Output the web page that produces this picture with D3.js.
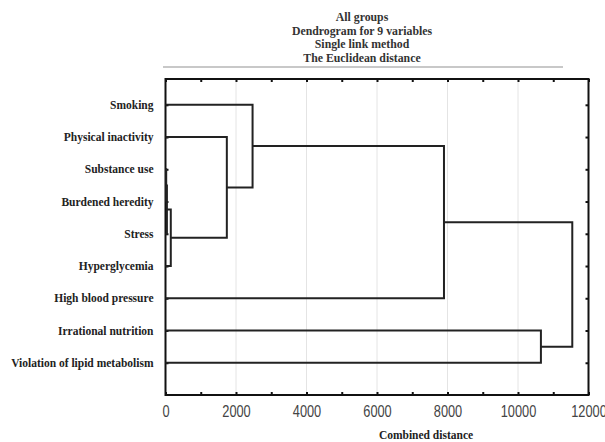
<!DOCTYPE html>
<html>
<head>
<meta charset="utf-8">
<script src="https://cdn.jsdelivr.net/npm/d3@7"></script>
<style>
  body { margin: 0; background: #fff; }
  svg { display: block; }
</style>
</head>
<body>
<div id="svg-container"></div>
<script>
////////////////////////////////////////////////////////////////////
////////////////////////////  Data  ////////////////////////////////
const variables = [
  "Smoking",
  "Physical inactivity",
  "Substance use",
  "Burdened heredity",
  "Stress",
  "Hyperglycemia",
  "High blood pressure",
  "Irrational nutrition",
  "Violation of lipid metabolism",
];
// merge steps: nodes 0-8 are the leaves, merge i creates node 9 + i
const mergeA = [2, 9, 10, 1, 0, 13, 7, 14];
const mergeB = [3, 4, 5, 11, 12, 6, 8, 15];
const mergeDist = [20, 40, 150, 1740, 2470, 7900, 10650, 11540];

const titleLines = [
  "All groups",
  "Dendrogram for 9 variables",
  "Single link method",
  "The Euclidean distance",
];
const xTicks = [0, 2000, 4000, 6000, 8000, 10000, 12000];
const xMinor = d3.range(0, 12001, 1000);
const xLabel = "Combined distance";

////////////////////////////////////////////////////////////////////
////////////////////////////  Init  ////////////////////////////////
const width = 605;
const height = 442;
const margin = { top: 79, right: 16.5, bottom: 47, left: 165.5 };

const svg = d3
  .select("#svg-container")
  .append("svg")
  .attr("width", width)
  .attr("height", height);

const xScale = d3
  .scaleLinear()
  .domain([0, 12000])
  .range([margin.left, width - margin.right]);
const yScale = d3
  .scaleLinear()
  .domain([0.2, 10])
  .range([margin.top, height - margin.bottom]);

const serif = "'Liberation Serif', 'Times New Roman', serif";
const sans = "'Liberation Sans', Arial, sans-serif";

// title
svg
  .append("g")
  .selectAll("text")
  .data(titleLines)
  .join("text")
  .attr("x", 362)
  .attr("y", (d, i) => 21 + i * 13.5)
  .attr("text-anchor", "middle")
  .attr("font-family", serif)
  .attr("font-weight", "bold")
  .attr("font-size", 11.8)
  .attr("fill", "#333")
  .text((d) => d);

// grey rule under title
svg
  .append("line")
  .attr("x1", 163)
  .attr("x2", 563)
  .attr("y1", 67)
  .attr("y2", 67)
  .attr("stroke", "#c8c8c8")
  .attr("stroke-width", 2);

// grid
svg
  .append("g")
  .selectAll("line")
  .data(xTicks.slice(1, -1))
  .join("line")
  .attr("x1", (d) => xScale(d))
  .attr("x2", (d) => xScale(d))
  .attr("y1", yScale.range()[0])
  .attr("y2", yScale.range()[1])
  .attr("stroke", "#e4e4e4")
  .attr("stroke-width", 1);

// axes (ticks pointing inward)
const bottomAxis = d3
  .axisBottom(xScale)
  .tickValues(xMinor)
  .tickSize(-3)
  .tickSizeOuter(0)
  .tickPadding(11)
  .tickFormat((d) => (d % 2000 === 0 ? d : ""));

const gx = svg
  .append("g")
  .attr("transform", `translate(0,${yScale.range()[1]})`)
  .call(bottomAxis);
gx.select(".domain").remove();
gx.selectAll("line").attr("stroke", "#111").attr("stroke-width", 2);
gx.selectAll("text")
  .attr("font-family", sans)
  .attr("font-size", 16)
  .attr("fill", "#444")
  .attr("transform", "scale(0.8,1)");

const gTop = svg
  .append("g")
  .attr("transform", `translate(0,${yScale.range()[0]})`)
  .call(d3.axisTop(xScale).tickValues(xMinor).tickSize(-3).tickFormat(""));
gTop.select(".domain").remove();
gTop.selectAll("line").attr("stroke", "#111").attr("stroke-width", 2);

const rows = d3.range(1, variables.length + 1);
const gy = svg
  .append("g")
  .attr("transform", `translate(${xScale.range()[0]},0)`)
  .call(
    d3
      .axisLeft(yScale)
      .tickValues(rows)
      .tickSize(-3)
      .tickPadding(12)
      .tickFormat((d) => variables[d - 1])
  );
gy.select(".domain").remove();
gy.selectAll("line").attr("stroke", "#111").attr("stroke-width", 2);
gy.selectAll("text")
  .attr("font-family", serif)
  .attr("font-weight", "bold")
  .attr("font-size", 11.5)
  .attr("fill", "#222");

const gRight = svg
  .append("g")
  .attr("transform", `translate(${xScale.range()[1]},0)`)
  .call(d3.axisRight(yScale).tickValues(rows).tickSize(-3).tickFormat(""));
gRight.select(".domain").remove();
gRight.selectAll("line").attr("stroke", "#111").attr("stroke-width", 2);

// frame
svg
  .append("rect")
  .attr("x", xScale.range()[0])
  .attr("y", yScale.range()[0])
  .attr("width", xScale.range()[1] - xScale.range()[0])
  .attr("height", yScale.range()[1] - yScale.range()[0])
  .attr("fill", "none")
  .attr("stroke", "#111")
  .attr("stroke-width", 2);

// axis title
svg
  .append("text")
  .attr("x", 426)
  .attr("y", 439)
  .attr("text-anchor", "middle")
  .attr("font-family", serif)
  .attr("font-weight", "bold")
  .attr("font-size", 11.5)
  .attr("fill", "#222")
  .text(xLabel);

////////////////////////////////////////////////////////////////////
////////////////////////////  Dendrogram  //////////////////////////
const nodeY = rows.slice();
const nodeH = variables.map(() => 0);
const links = [];
mergeA.forEach((a, i) => {
  const b = mergeB[i];
  const d = mergeDist[i];
  links.push({ a, b, d, ya: nodeY[a], yb: nodeY[b], ha: nodeH[a], hb: nodeH[b] });
  nodeY.push((nodeY[a] + nodeY[b]) / 2);
  nodeH.push(d);
});

svg
  .append("g")
  .selectAll("path")
  .data(links)
  .join("path")
  .attr("fill", "none")
  .attr("stroke", "#222")
  .attr("stroke-width", 2)
  .attr(
    "d",
    (l) =>
      `M${xScale(l.ha)},${yScale(l.ya)}H${xScale(l.d)}V${yScale(l.yb)}H${xScale(l.hb)}`
  );
</script>
</body>
</html>
